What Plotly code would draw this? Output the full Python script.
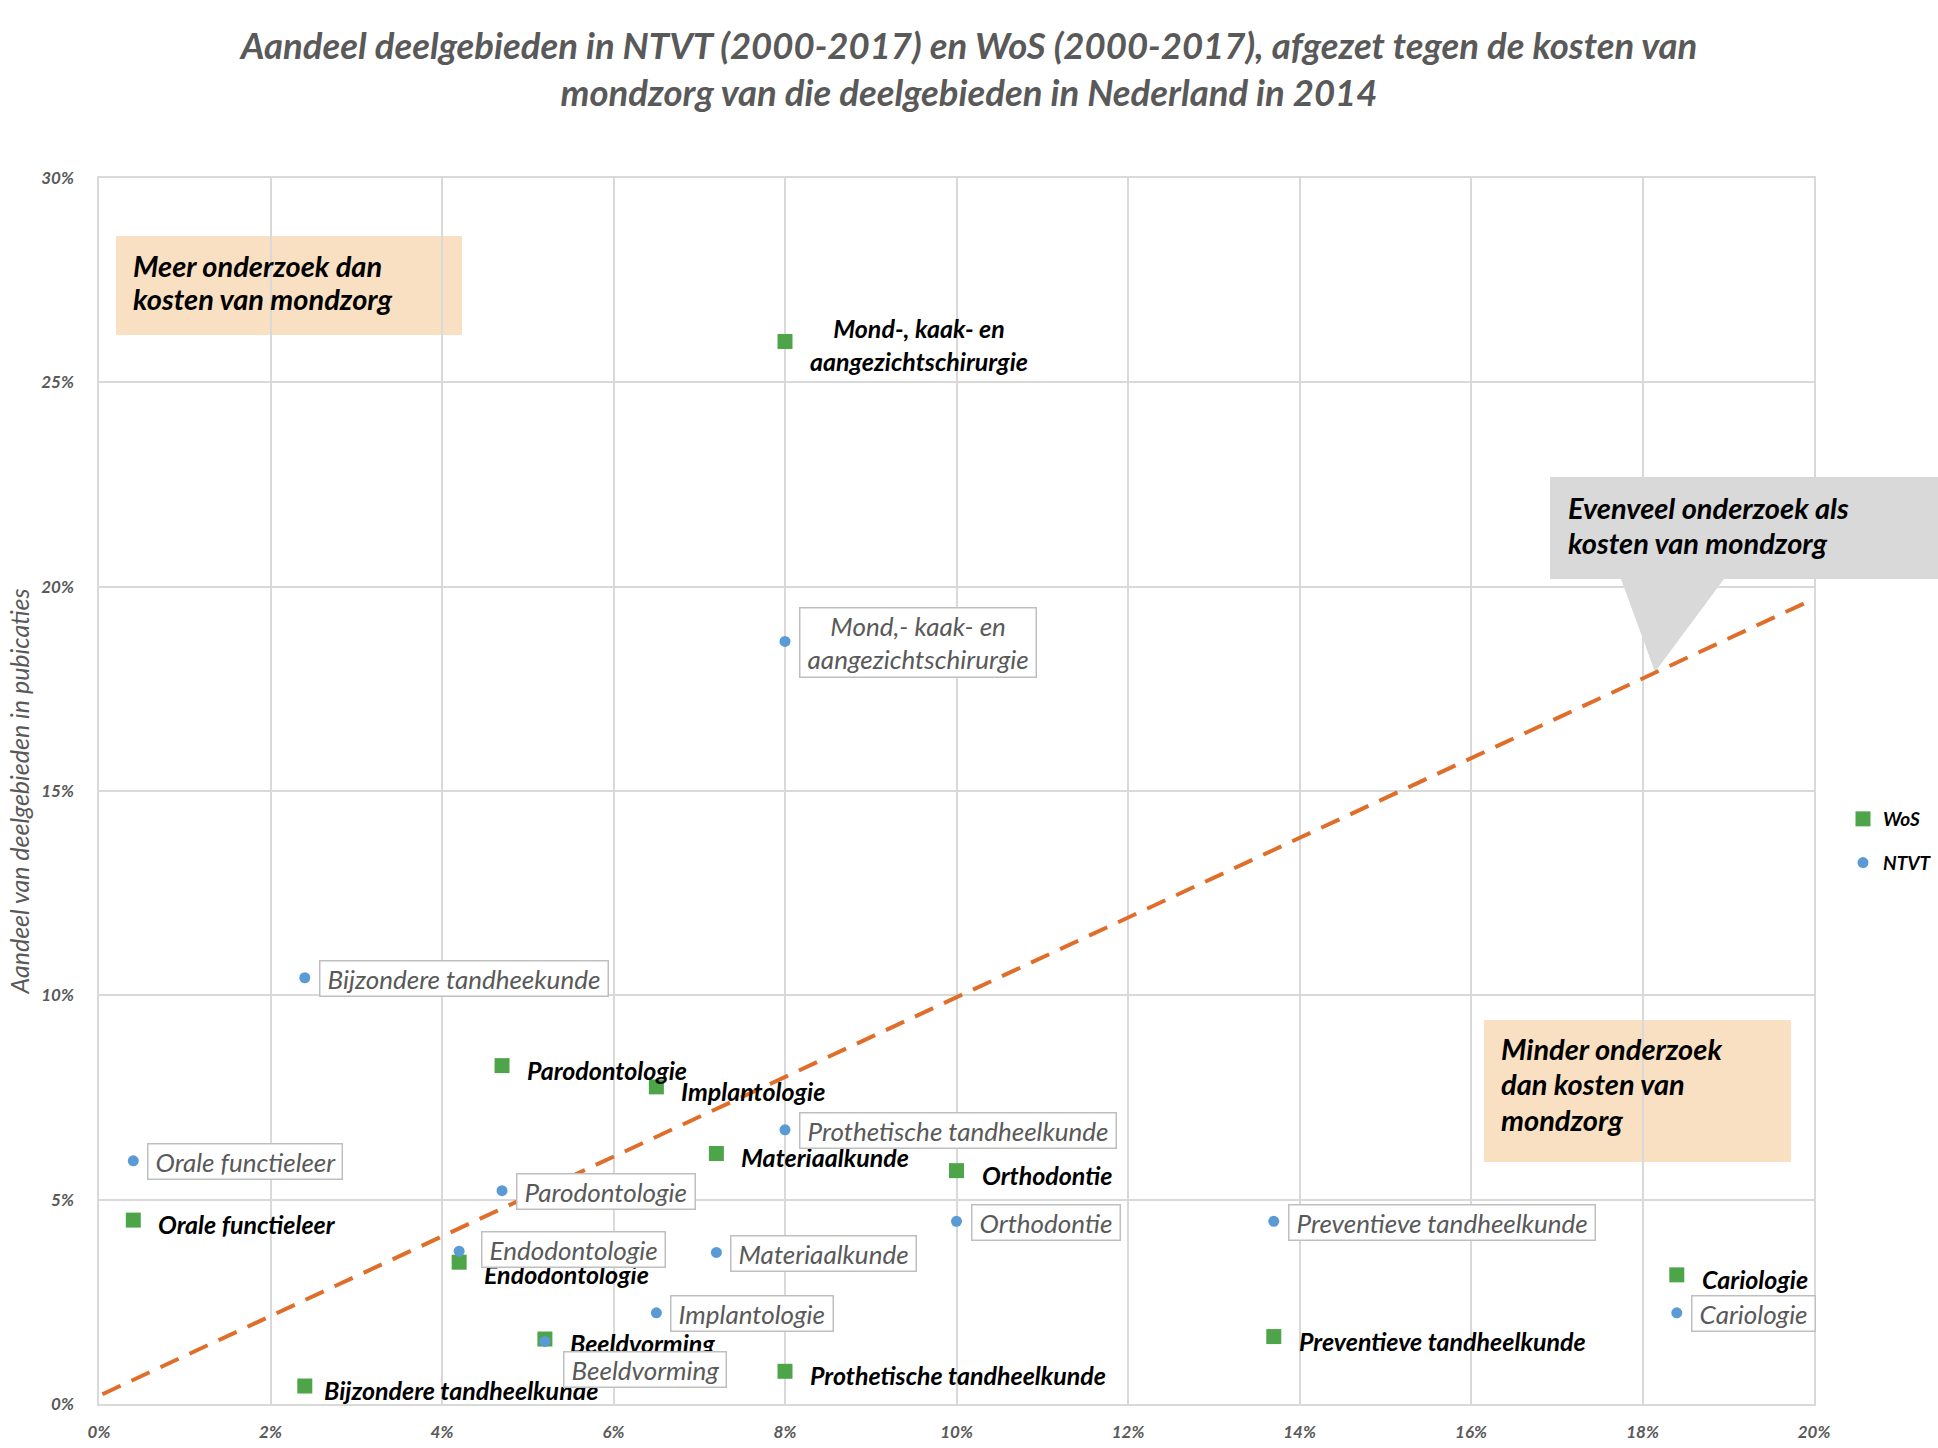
import plotly.graph_objects as go

# ---------------- data ----------------
wos_labels = ["Mond-, kaak- en<br>aangezichtschirurgie", "Parodontologie", "Implantologie",
              "Materiaalkunde", "Orthodontie", "Orale functieleer", "Endodontologie",
              "Beeldvorming", "Bijzondere tandheelkunde", "Prothetische tandheelkunde",
              "Preventieve tandheelkunde", "Cariologie"]
wos_kosten = [0.080, 0.047, 0.065, 0.072, 0.100, 0.004, 0.042, 0.052, 0.024, 0.080, 0.137, 0.184]
wos_aandeel = [0.260, 0.0828, 0.0776, 0.0613, 0.0571, 0.0450, 0.0347, 0.0159, 0.0044, 0.0080, 0.0165, 0.0316]

ntvt_labels = ["Mond,- kaak- en<br>aangezichtschirurgie", "Parodontologie", "Implantologie",
               "Materiaalkunde", "Orthodontie", "Orale functieleer", "Endodontologie",
               "Beeldvorming", "Bijzondere tandheekunde", "Prothetische tandheelkunde",
               "Preventieve tandheelkunde", "Cariologie"]
ntvt_kosten = [0.080, 0.047, 0.065, 0.072, 0.100, 0.004, 0.042, 0.052, 0.024, 0.080, 0.137, 0.184]
ntvt_aandeel = [0.1866, 0.0522, 0.0223, 0.0371, 0.0447, 0.0595, 0.0374, 0.0153, 0.1043, 0.0671, 0.0447, 0.0223]

gelijk_x = [0.0004, 0.201]
gelijk_y = [0.0024, 0.198]

x_ticks = [0, 0.02, 0.04, 0.06, 0.08, 0.10, 0.12, 0.14, 0.16, 0.18, 0.20]
y_ticks = [0, 0.05, 0.10, 0.15, 0.20, 0.25, 0.30]

title_text = ("Aandeel deelgebieden in NTVT (2000-2017) en WoS (2000-2017), afgezet tegen de kosten van"
              "<br>mondzorg van die deelgebieden in Nederland in 2014")
y_title = "Aandeel van deelgebieden in pubicaties"

meer_lines = ["Meer onderzoek dan", "kosten van mondzorg"]
minder_lines = ["Minder onderzoek", "dan kosten van", "mondzorg"]
evenveel_lines = ["Evenveel onderzoek als", "kosten van mondzorg"]

# ---------------- styling ----------------
W, H = 1938, 1448
L, R, T, B = 99, 1814, 178, 1404
FONT = "Lato, 'Open Sans', sans-serif"
GREEN = "#4EA549"
BLUE = "#5B9BD5"
ORANGE = "#DF6E2A"
GRID = "#D9D9D9"
GREYTXT = "#595959"


def px(xp):
    return (xp - L) / (R - L)


def py(yp):
    return (B - yp) / (B - T)


# label offsets (pixels) per category index
wos_shift = {i: (23, -4) for i in range(12)}
wos_shift[0] = (23, -3)
wos_shift[6] = (23, -12)
wos_shift[8] = (17, -4)

ntvt_shift = {i: (14, -1) for i in range(12)}
ntvt_shift[6] = (22, 2)
ntvt_shift[7] = (18, -28)

fig = go.Figure()

fig.add_trace(go.Scatter(
    x=gelijk_x, y=gelijk_y, mode="lines",
    line=dict(color=ORANGE, width=4, dash="20px,12px"),
    showlegend=False, hoverinfo="skip"))

fig.add_trace(go.Scatter(
    x=wos_kosten, y=wos_aandeel, mode="markers", name="WoS",
    marker=dict(symbol="square", size=15, color=GREEN, line=dict(width=0)),
    legendgroup="a"))

fig.add_trace(go.Scatter(
    x=ntvt_kosten, y=ntvt_aandeel, mode="markers", name="NTVT",
    marker=dict(symbol="circle", size=11, color=BLUE, line=dict(width=0)),
    legendgroup="b"))

annotations = []
for i, (lab, xv, yv) in enumerate(zip(wos_labels, wos_kosten, wos_aandeel)):
    dx, dy = wos_shift[i]
    annotations.append(dict(
        x=xv, y=yv, xref="x", yref="y", text=lab, showarrow=False,
        xanchor="left", yanchor="middle", xshift=dx, yshift=dy, align="center",
        font=dict(family=FONT, size=25, color="#000000", weight="bold", style="italic")))

for i, (lab, xv, yv) in enumerate(zip(ntvt_labels, ntvt_kosten, ntvt_aandeel)):
    dx, dy = ntvt_shift[i]
    padded = "&nbsp;" + lab.replace("<br>", "&nbsp;<br>&nbsp;") + "&nbsp;"
    annotations.append(dict(
        x=xv, y=yv, xref="x", yref="y", text=padded, showarrow=False,
        xanchor="left", yanchor="middle", xshift=dx, yshift=dy, align="center",
        bgcolor="#FFFFFF", bordercolor="#BFBFBF", borderwidth=1.5, borderpad=1,
        font=dict(family=FONT, size=26, color=GREYTXT, style="italic")))

box_font = dict(family=FONT, size=29, color="#000000", weight="bold", style="italic")


def add_lines(lines, x_left, ys):
    for txt, yy in zip(lines, ys):
        annotations.append(dict(x=px(x_left), y=py(yy), xref="paper", yref="paper",
                                text=txt, showarrow=False, xanchor="left",
                                yanchor="middle", align="left", font=box_font))


add_lines(meer_lines, 131, [265, 298])
add_lines(minder_lines, 1499, [1048, 1083, 1119])
add_lines(evenveel_lines, 1566, [507, 542])

PEACH = "#F9E0C2"
shapes = [
    dict(type="rect", xref="paper", yref="paper", x0=px(116), x1=px(462), y0=py(335), y1=py(236),
         fillcolor=PEACH, line=dict(width=0), layer="between"),
    dict(type="rect", xref="paper", yref="paper", x0=px(1484), x1=px(1791), y0=py(1162), y1=py(1020),
         fillcolor=PEACH, line=dict(width=0), layer="between"),
]
pts = [(1550, 477), (1960, 477), (1960, 579), (1724, 579), (1655, 672), (1621, 579), (1550, 579)]
path = "M " + " L ".join(f"{px(a):.5f},{py(b):.5f}" for a, b in pts) + " Z"
shapes.append(dict(type="path", xref="paper", yref="paper", path=path,
                   fillcolor="#D9D9D9", line=dict(width=0), layer="between"))

tickfont = dict(family=FONT, size=17, color=GREYTXT, weight="bold", style="italic")

fig.update_layout(
    width=W, height=H,
    margin=dict(l=L, r=W - R, t=T, b=H - B, autoexpand=False),
    paper_bgcolor="#FFFFFF", plot_bgcolor="#FFFFFF",
    title=dict(text=title_text, x=0.5, xanchor="center", y=1 - 59 / H, yanchor="middle",
               yref="container",
               font=dict(family=FONT, size=36.5, color=GREYTXT, weight="bold", style="italic")),
    xaxis=dict(range=[0, 0.2], tickvals=x_ticks, tickformat=".0%", showgrid=True,
               gridcolor=GRID, gridwidth=1.5, zeroline=False, showline=True, linecolor=GRID,
               linewidth=1.5, mirror=True, ticks="", tickfont=tickfont, ticklabelstandoff=12),
    yaxis=dict(range=[0, 0.3], tickvals=y_ticks, tickformat=".0%", showgrid=True,
               gridcolor=GRID, gridwidth=1.5, zeroline=False, showline=True, linecolor=GRID,
               linewidth=1.5, mirror=True, ticks="", tickfont=tickfont, ticklabelstandoff=20,
               title=dict(text=y_title, standoff=4,
                          font=dict(family=FONT, size=25, color=GREYTXT, style="italic"))),
    legend=dict(x=px(1843), y=py(800), xanchor="left", yanchor="top",
                bgcolor="rgba(0,0,0,0)", tracegroupgap=16, traceorder="grouped",
                font=dict(family=FONT, size=19, color="#000000", weight="bold", style="italic")),
    annotations=annotations, shapes=shapes,
)

fig.write_html("out.html", config={"displayModeBar": False},
               post_script="document.body.style.margin='0';")
